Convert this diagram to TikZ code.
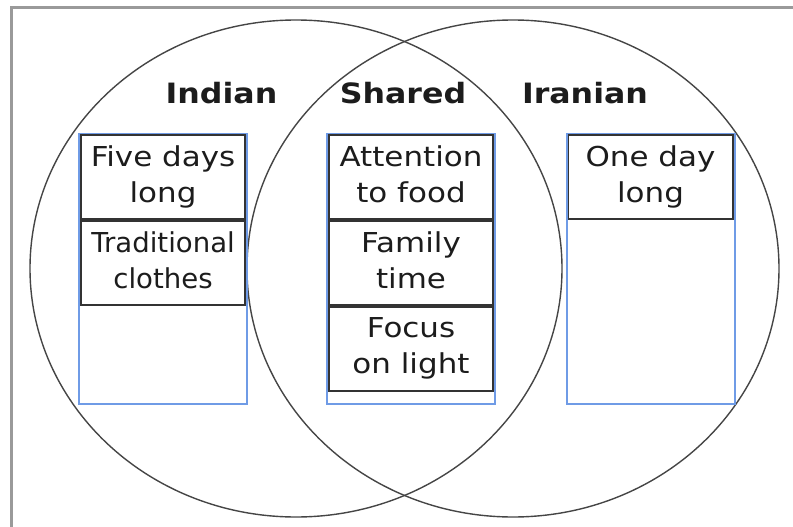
\documentclass[tikz,border=0pt]{standalone}
\usepackage{fontspec}
\usepackage{graphicx}
\setmainfont[FakeStretch=1.13]{DejaVu Sans}
\usetikzlibrary{positioning}

\definecolor{ringgray}{HTML}{454545}
\definecolor{framegray}{HTML}{9A9A9A}
\definecolor{colblue}{HTML}{6F9BE6}
\definecolor{textgray}{HTML}{1C1C1C}

\tikzset{
  ring/.style={draw=ringgray, line width=1.4pt},
  column/.style={draw=colblue, line width=1.8pt, minimum width=168.2pt,
    minimum height=270.2pt, inner sep=0pt},
  fact/.style={draw=black!80, line width=1.6pt, minimum width=164.4pt,
    minimum height=84.4pt, inner sep=0pt, align=center, text=textgray,
    text depth=6.5pt, font=\fontsize{27.4}{36}\selectfont},
  heading/.style={anchor=base, inner sep=0pt, text=textgray,
    font=\fontsize{28}{34}\selectfont\bfseries}
}

\begin{document}
\begin{tikzpicture}[x=1pt,y=-1pt]
    \useasboundingbox (0,0) rectangle (793,527);
    \draw[framegray, line width=3pt] (11.5,540) -- (11.5,8) -- (805,8);

    % the two rings
    \draw[ring] (296,268.5) ellipse [x radius=266, y radius=248.5];
    \draw[ring] (513,268.5) ellipse [x radius=266, y radius=248.5];

    \node[heading] (indian) at (221.5,103) {Indian};
    \node[heading] (shared) at (403,103) {Shared};
    \node[heading] (iranian) at (585,103) {Iranian};

    % columns
    \node[column] (colL) at (163,269) {};
    \node[column] (colM) at (411,269) {};
    \node[column] (colR) at (651,269) {};

    % Indian facts
    \node[fact] (fiveDays) at (163,177) {Five days\\long};
    \node[fact, below=0pt of fiveDays] (clothes)
        {\scalebox{0.89}[1]{Traditional}\\\scalebox{0.89}[1]{clothes}};

    % shared facts
    \node[fact] (food) at (411,177) {Attention\\to food};
    \node[fact, below=0pt of food] (family) {Family\\time};
    \node[fact, below=0pt of family] (light) {Focus\\on light};

    % Iranian facts
    \node[fact] (oneDay) at (650.5,177) {One day\\long};
\end{tikzpicture}
\end{document}
